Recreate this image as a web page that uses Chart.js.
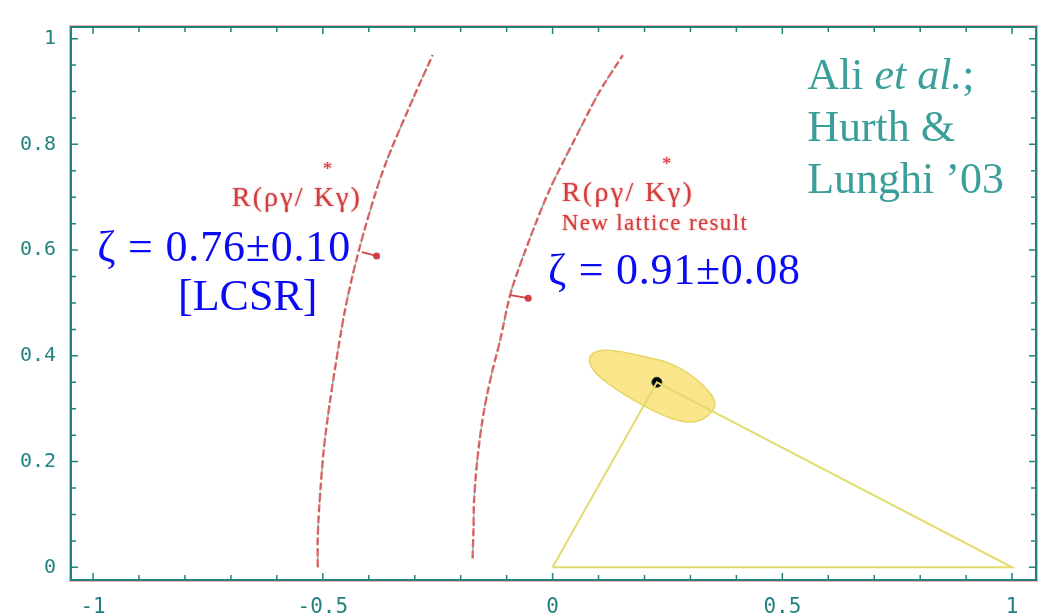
<!DOCTYPE html>
<html>
<head>
<meta charset="utf-8">
<script src="https://cdn.jsdelivr.net/npm/chart.js@4.4.0/dist/chart.umd.min.js"></script>
<style>
  html, body { margin: 0; padding: 0; background: #ffffff; }
</style>
</head>
<body>
<canvas id="chart" width="1047" height="613"></canvas>
<script>
// Unitarity-triangle plot: R(rho gamma / K* gamma) bounds in the (rho, eta) plane

// LCSR bound curve (zeta = 0.76)
const lcsrX = [-0.511, -0.511, -0.505, -0.497, -0.485, -0.469, -0.451, -0.433, -0.412, -0.381, -0.356, -0.307, -0.261];
const lcsrY = [0.000, 0.060, 0.150, 0.230, 0.310, 0.400, 0.490, 0.560, 0.630, 0.720, 0.780, 0.880, 0.969];

// New lattice bound curve (zeta = 0.91)
const latticeX = [-0.174, -0.172, -0.171, -0.166, -0.158, -0.147, -0.132, -0.114, -0.099, -0.086, -0.045, -0.005, 0.052, 0.103, 0.153];
const latticeY = [0.017, 0.074, 0.123, 0.184, 0.246, 0.307, 0.368, 0.430, 0.491, 0.534, 0.632, 0.717, 0.816, 0.901, 0.969];

// little arrows showing the allowed side
const lcsrArrowX = [-0.415, -0.383];
const lcsrArrowY = [0.596, 0.589];
const latticeArrowX = [-0.092, -0.053];
const latticeArrowY = [0.515, 0.509];

// yellow fit region outline
const ellipseX = [0.076, 0.096, 0.140, 0.198, 0.256, 0.306, 0.343, 0.356, 0.346, 0.321, 0.285, 0.234, 0.176, 0.125, 0.089];
const ellipseY = [0.396, 0.411, 0.410, 0.399, 0.387, 0.362, 0.331, 0.310, 0.292, 0.276, 0.274, 0.289, 0.316, 0.344, 0.370];

// triangle and best fit apex
const triangleX = [0, 0.227, 1, 0];
const triangleY = [0, 0.350, 0, 0];
const apexX = [0.227];
const apexY = [0.350];

const xTickLabels = ['-1', '-0.5', '0', '0.5', '1'];
const yTickLabels = ['0', '0.2', '0.4', '0.6', '0.8', '1'];

const TEAL = '#23827e';
const RED = 'rgba(208, 52, 52, 0.92)';
const BLUE = '#0a0af5';
const NOTE_TEAL = '#3b9f99';

function toPoints(xs, ys) {
    return xs.map((x, i) => ({ x: x, y: ys[i] }));
}

// draw text spread to a target width (original font is wide)
function drawFitted(ctx, text, x, y, width) {
    ctx.letterSpacing = '0px';
    if (width && text.length > 1) {
        const w = ctx.measureText(text).width;
        ctx.letterSpacing = ((width - w) / (text.length - 1)) + 'px';
    }
    ctx.fillText(text, x, y);
    ctx.letterSpacing = '0px';
}

// filled fit region, drawn from the ellipse dataset's own points
const ellipsePlugin = {
    id: 'ellipseFill',
    beforeDatasetsDraw(chart) {
        const meta = chart.getDatasetMeta(0);
        const pts = meta.data;
        const n = pts.length;
        const ctx = chart.ctx;
        const mid = (a, b) => ({ x: (a.x + b.x) / 2, y: (a.y + b.y) / 2 });
        ctx.save();
        ctx.beginPath();
        let start = mid(pts[n - 1], pts[0]);
        ctx.moveTo(start.x, start.y);
        for (let i = 0; i < n; i++) {
            const p = pts[i];
            const m = mid(p, pts[(i + 1) % n]);
            ctx.quadraticCurveTo(p.x, p.y, m.x, m.y);
        }
        ctx.closePath();
        ctx.fillStyle = 'rgba(250, 222, 110, 0.8)';
        ctx.fill();
        ctx.strokeStyle = '#e6d66a';
        ctx.lineWidth = 1.5;
        ctx.stroke();
        ctx.restore();
    }
};

// frame with inward ticks on all four sides
const framePlugin = {
    id: 'frame',
    afterDatasetsDraw(chart) {
        const ctx = chart.ctx;
        const a = chart.chartArea;
        const xs = chart.scales.x;
        const ys = chart.scales.y;
        ctx.save();
        ctx.strokeStyle = 'rgba(240, 120, 120, 0.6)';
        ctx.lineWidth = 1;
        ctx.strokeRect(a.left - 1.5, a.top - 1.5, a.right - a.left + 3, a.bottom - a.top + 3);
        ctx.strokeStyle = TEAL;
        ctx.lineWidth = 2;
        ctx.strokeRect(a.left, a.top, a.right - a.left, a.bottom - a.top);
        ctx.lineWidth = 1.5;
        ctx.beginPath();
        for (let i = -10; i <= 10; i++) {
            const px = xs.getPixelForValue(i / 10);
            const len = i % 5 === 0 ? 7 : 5;
            ctx.moveTo(px, a.bottom); ctx.lineTo(px, a.bottom - len);
            ctx.moveTo(px, a.top); ctx.lineTo(px, a.top + len);
        }
        for (let j = 0; j <= 20; j++) {
            const py = ys.getPixelForValue(j / 20);
            const len = j % 4 === 0 ? 7 : 5;
            ctx.moveTo(a.left, py); ctx.lineTo(a.left + len, py);
            ctx.moveTo(a.right, py); ctx.lineTo(a.right - len, py);
        }
        ctx.stroke();
        ctx.restore();
    }
};

// text annotations placed in data coordinates
const notes = [
    { text: 'R(ργ/ Kγ)', x: -0.698, y: 0.684, font: '28px "Liberation Serif"', color: RED, width: 128, glow: true },
    { text: '*', x: -0.500, y: 0.743, font: '19px "Liberation Serif"', color: RED, glow: true },
    { text: 'R(ργ/ Kγ)', x: 0.020, y: 0.693, font: '28px "Liberation Serif"', color: RED, width: 130, glow: true },
    { text: '*', x: 0.238, y: 0.752, font: '19px "Liberation Serif"', color: RED, glow: true },
    { text: 'New lattice result', x: 0.020, y: 0.638, font: '23px "Liberation Serif"', color: RED, width: 185, glow: true },
    { text: 'ζ = 0.76±0.10', x: -0.991, y: 0.579, font: '44px "Liberation Serif"', color: BLUE, width: 253 },
    { text: '[LCSR]', x: -0.815, y: 0.487, font: '44px "Liberation Serif"', color: BLUE },
    { text: 'ζ = 0.91±0.08', x: -0.010, y: 0.535, font: '44px "Liberation Serif"', color: BLUE, width: 252 },
    { parts: [['Ali ', ''], ['et al.', 'italic '], [';', '']], x: 0.554, y: 0.904, font: '44px "Liberation Serif"', color: NOTE_TEAL },
    { text: 'Hurth &', x: 0.554, y: 0.807, font: '44px "Liberation Serif"', color: NOTE_TEAL },
    { text: 'Lunghi ’03', x: 0.554, y: 0.708, font: '44px "Liberation Serif"', color: NOTE_TEAL }
];

const notesPlugin = {
    id: 'notes',
    afterDraw(chart) {
        const ctx = chart.ctx;
        const xs = chart.scales.x;
        const ys = chart.scales.y;
        ctx.save();
        ctx.textBaseline = 'alphabetic';
        ctx.textAlign = 'left';
        notes.forEach(n => {
            let px = xs.getPixelForValue(n.x);
            const py = ys.getPixelForValue(n.y);
            ctx.fillStyle = n.color;
            if (n.glow) {
                ctx.shadowColor = 'rgba(220, 70, 70, 0.7)';
                ctx.shadowBlur = 2;
            } else {
                ctx.shadowBlur = 0;
                ctx.shadowColor = 'transparent';
            }
            if (n.parts) {
                n.parts.forEach(p => {
                    ctx.font = p[1] + n.font;
                    ctx.fillText(p[0], px, py);
                    px += ctx.measureText(p[0]).width;
                });
            } else {
                ctx.font = n.font;
                drawFitted(ctx, n.text, px, py, n.width);
            }
        });
        ctx.restore();
    }
};

const ctx = document.getElementById('chart').getContext('2d');

const chart = new Chart(ctx, {
    type: 'scatter',
    data: {
        datasets: [
            {
                label: 'Fit region',
                data: toPoints(ellipseX, ellipseY),
                showLine: false,
                pointRadius: 0
            },
            {
                label: 'Triangle',
                data: toPoints(triangleX, triangleY),
                showLine: true,
                borderColor: '#e2dc6e',
                borderWidth: 2,
                pointRadius: 0,
                tension: 0
            },
            {
                label: 'LCSR',
                data: toPoints(lcsrX, lcsrY),
                showLine: true,
                borderColor: 'rgba(215, 70, 70, 0.8)',
                borderWidth: 2.4,
                borderDash: [8, 3],
                pointRadius: 0,
                tension: 0.3
            },
            {
                label: 'LCSR dots',
                data: toPoints(lcsrX, lcsrY),
                showLine: true,
                borderColor: 'rgba(40, 160, 160, 0.85)',
                borderWidth: 1.2,
                borderDash: [3, 5],
                pointRadius: 0,
                tension: 0.3
            },
            {
                label: 'Lattice',
                data: toPoints(latticeX, latticeY),
                showLine: true,
                borderColor: 'rgba(215, 70, 70, 0.8)',
                borderWidth: 2.4,
                borderDash: [8, 3],
                pointRadius: 0,
                tension: 0.3
            },
            {
                label: 'Lattice dots',
                data: toPoints(latticeX, latticeY),
                showLine: true,
                borderColor: 'rgba(40, 160, 160, 0.85)',
                borderWidth: 1.2,
                borderDash: [3, 5],
                pointRadius: 0,
                tension: 0.3
            },
            {
                label: 'LCSR arrow',
                data: toPoints(lcsrArrowX, lcsrArrowY),
                showLine: true,
                borderColor: RED,
                borderWidth: 1.8,
                pointRadius: [0, 3.5],
                pointBackgroundColor: RED,
                pointBorderWidth: 0
            },
            {
                label: 'Lattice arrow',
                data: toPoints(latticeArrowX, latticeArrowY),
                showLine: true,
                borderColor: RED,
                borderWidth: 1.8,
                pointRadius: [0, 3.5],
                pointBackgroundColor: RED,
                pointBorderWidth: 0
            },
            {
                label: 'Best fit',
                data: toPoints(apexX, apexY),
                showLine: false,
                pointRadius: 5,
                pointBackgroundColor: '#000000',
                pointBorderColor: '#0b3b3a',
                pointBorderWidth: 1
            }
        ]
    },
    options: {
        responsive: false,
        animation: false,
        layout: {
            padding: { top: 11, right: 11, left: 0, bottom: 0 }
        },
        plugins: {
            legend: { display: false },
            tooltip: { enabled: false }
        },
        scales: {
            x: {
                type: 'linear',
                min: -1.048,
                max: 1.052,
                afterFit: (scale) => { scale.height = 33; },
                grid: { display: false, drawTicks: false },
                border: { display: false },
                ticks: {
                    stepSize: 0.5,
                    includeBounds: false,
                    autoSkip: false,
                    maxRotation: 0,
                    padding: 15,
                    color: TEAL,
                    font: { family: '"DejaVu Sans Mono"', size: 21 },
                    callback: (v, i) => xTickLabels[i]
                }
            },
            y: {
                type: 'linear',
                min: -0.024,
                max: 1.022,
                afterFit: (scale) => { scale.width = 71; },
                grid: { display: false, drawTicks: false },
                border: { display: false },
                ticks: {
                    stepSize: 0.2,
                    includeBounds: false,
                    autoSkip: false,
                    padding: 15,
                    color: TEAL,
                    font: { family: '"DejaVu Sans Mono"', size: 20 },
                    callback: (v, i) => yTickLabels[i]
                }
            }
        }
    },
    plugins: [ellipsePlugin, framePlugin, notesPlugin]
});
</script>
</body>
</html>
